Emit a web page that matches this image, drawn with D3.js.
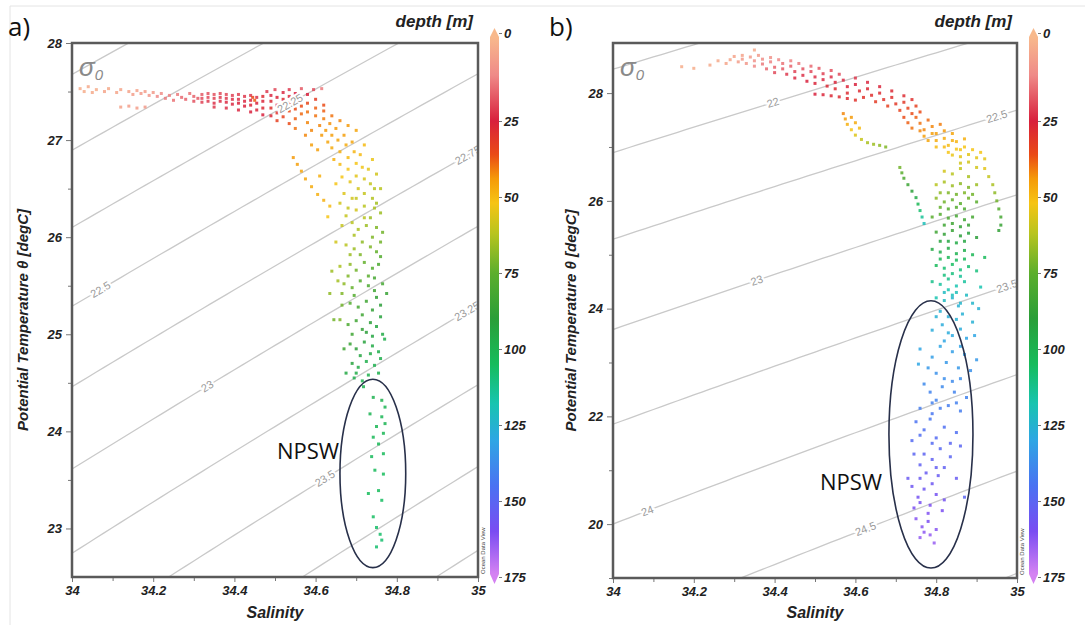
<!DOCTYPE html>
<html>
<head>
<meta charset="utf-8">
<script src="https://cdn.jsdelivr.net/npm/d3@7"></script>
<style>
    body { margin: 0; background: #fff; }
    svg { display: block; font-family: "Liberation Sans", Arial, sans-serif; }
    .axis text { font-weight: bold; font-style: italic; font-size: 13px; fill: #222; }
    .axis line { stroke: #777; }
    .axis path { display: none; }
</style>
</head>
<body>
<svg id="chart" width="1085" height="625"></svg>
<script>
// ---- data ----
const salinityTicks = [34, 34.2, 34.4, 34.6, 34.8, 35];
const salinityMinor = [34.1, 34.3, 34.5, 34.7, 34.9];
const tempTicksA = [23, 24, 25, 26, 27, 28];
const tempMinorA = [23.5, 24.5, 25.5, 26.5, 27.5];
const tempTicksB = [20, 22, 24, 26, 28];
const tempMinorB = [19, 21, 23, 25, 27];
const depthTicks = [0, 25, 50, 75, 100, 125, 150, 175];
const depthStops = [0, 12, 25, 36, 44, 52, 62, 75, 90, 105, 118, 130, 145, 160, 175];
const depthColors = ['#f8b98c', '#ef8a88', '#d8203c', '#ea4a16', '#f59a08', '#f6c414', '#b8c41e', '#5cae2c',
    '#2a9e38', '#16bc5c', '#18c4b0', '#2ea6e4', '#4a72f2', '#7a4cf2', '#d482f2'];

const levelsA = [21.5, 21.75, 22, 22.25, 22.5, 22.75, 23, 23.25, 23.5, 23.75, 24, 24.25];
const levelsB = [21, 21.5, 22, 22.5, 23, 23.5, 24, 24.5, 25];
// [sigma level, salinity where the label sits]
const labelsA = [[22.25, 34.537], [22.5, 34.07], [22.75, 34.975], [23, 34.333], [23.25, 34.973], [23.5, 34.623]];
const labelsB = [[22, 34.396], [22.5, 34.95], [23, 34.356], [23.5, 34.975], [24, 34.085], [24.5, 34.625]];

// NPSW ellipse: [centre S, centre T, radius S, radius T]
const npswA = [34.741, 23.567, 0.081, 0.97];
const npswB = [34.787, 21.665, 0.104, 2.48];

// [salinity, potential temperature, depth]
const pointsA = [
    [34.02,27.53,3],[34.03,27.50,3],[34.04,27.55,4],[34.05,27.49,4],[34.06,27.52,3],[34.08,27.50,5],[34.09,27.53,4],
    [34.11,27.49,5],[34.12,27.52,5],[34.14,27.50,6],[34.15,27.47,7],[34.16,27.51,6],[34.17,27.48,8],[34.18,27.50,7],
    [34.19,27.46,9],[34.20,27.49,8],[34.12,27.34,6],[34.14,27.35,7],[34.16,27.33,7],[34.18,27.34,8],
    [34.21,27.45,12],[34.22,27.48,11],[34.23,27.43,14],[34.24,27.46,13],[34.25,27.41,15],[34.26,27.47,14],
    [34.27,27.44,16],[34.28,27.42,17],[34.29,27.48,15],[34.30,27.45,17],[34.30,27.40,19],[34.31,27.43,18],
    [34.32,27.47,18],[34.32,27.43,20],[34.32,27.39,21],[34.335,27.48,19],[34.335,27.44,20],[34.335,27.40,22],
    [34.35,27.47,19],[34.35,27.43,21],[34.35,27.38,23],[34.35,27.34,22],[34.365,27.48,20],[34.365,27.44,22],
    [34.365,27.40,23],[34.38,27.47,20],[34.38,27.43,22],[34.38,27.39,24],[34.38,27.33,23],[34.395,27.46,21],
    [34.395,27.42,23],[34.395,27.37,24],[34.41,27.47,21],[34.41,27.42,23],[34.41,27.38,25],[34.41,27.31,24],
    [34.425,27.45,22],[34.425,27.40,24],[34.425,27.35,25],[34.44,27.46,22],[34.44,27.41,24],[34.44,27.36,26],
    [34.44,27.29,25],[34.455,27.44,23],[34.455,27.38,25],[34.455,27.31,26],[34.47,27.45,28],[34.47,27.40,26],
    [34.47,27.33,27],[34.47,27.26,25],[34.445,27.44,35],[34.45,27.41,38],
    [34.48,27.50,22],[34.49,27.46,24],[34.49,27.40,27],[34.49,27.33,29],[34.49,27.25,27],[34.50,27.52,20],
    [34.505,27.44,26],[34.505,27.36,30],[34.505,27.28,31],[34.505,27.20,33],[34.52,27.49,24],[34.52,27.42,28],
    [34.52,27.34,32],[34.52,27.24,34],[34.535,27.52,22],[34.535,27.45,28],[34.535,27.38,31],[34.535,27.30,34],
    [34.535,27.17,36],[34.55,27.48,26],[34.55,27.40,33],[34.55,27.32,36],[34.55,27.22,38],[34.55,27.12,40],
    [34.565,27.53,18],[34.565,27.43,30],[34.565,27.35,36],[34.565,27.27,39],[34.58,27.47,25],[34.58,27.38,35],
    [34.58,27.29,40],[34.58,27.18,42],[34.595,27.52,20],[34.60,27.42,32],[34.60,27.33,38],[34.615,27.53,14],
    [34.62,27.36,36],
    [34.60,27.25,40],[34.61,27.15,42],[34.615,27.05,44],[34.62,27.22,41],[34.625,27.10,44],[34.63,26.98,46],
    [34.635,27.17,43],[34.64,27.05,45],[34.64,26.92,47],[34.645,26.80,48],[34.65,27.12,44],[34.655,27.00,46],
    [34.66,26.88,48],[34.66,26.75,50],[34.665,26.62,52],[34.67,27.05,45],[34.675,26.95,47],[34.68,26.82,50],
    [34.68,26.70,52],[34.685,26.57,55],[34.69,26.98,46],[34.695,26.88,49],[34.70,26.76,52],[34.70,26.63,55],
    [34.705,26.50,58],[34.71,26.85,50],[34.715,26.72,53],[34.72,26.60,57],[34.72,26.45,60],[34.73,26.70,55],
    [34.735,26.55,60],[34.74,26.40,63],[34.745,26.50,62],[34.75,26.35,65],
    [34.62,27.30,38],[34.64,27.25,40],[34.66,27.20,42],[34.68,27.15,44],[34.70,27.10,46],[34.72,26.95,50],
    [34.74,26.80,54],[34.75,26.65,58],[34.76,26.50,62],[34.65,26.55,52],[34.67,26.45,56],[34.69,26.40,58],
    [34.575,27.05,42],[34.59,27.10,42],[34.605,26.90,45],
    [34.545,26.82,44],[34.555,26.75,45],[34.565,26.68,46],[34.575,26.60,46],[34.59,26.52,47],[34.605,26.44,48],
    [34.62,26.38,48],[34.635,26.32,50],[34.59,26.95,45],[34.61,26.63,48],[34.63,26.21,52],
    [34.68,26.30,60],[34.70,26.28,58],[34.72,26.32,62],[34.745,26.30,64],[34.76,26.25,66],
    [34.665,26.12,60],[34.69,26.15,62],[34.705,26.08,64],[34.725,26.12,66],[34.75,26.10,70],[34.765,26.05,72],
    [34.675,25.92,62],[34.695,25.88,66],[34.715,25.95,68],[34.735,25.90,70],[34.75,25.85,74],[34.76,25.95,72],
    [34.66,25.70,64],[34.685,25.72,68],[34.70,25.66,72],[34.72,25.74,74],[34.74,25.68,78],[34.755,25.72,80],
    [34.67,25.52,68],[34.69,25.48,74],[34.71,25.55,78],[34.73,25.50,80],[34.745,25.45,84],[34.765,25.52,82],
    [34.665,25.30,72],[34.685,25.32,78],[34.705,25.28,82],[34.725,25.34,84],[34.74,25.25,88],[34.76,25.30,90],
    [34.68,25.10,80],[34.70,25.14,84],[34.715,25.05,88],[34.735,25.12,90],[34.75,25.08,94],[34.765,25.00,96],
    [34.685,24.90,86],[34.70,24.85,90],[34.72,24.92,92],[34.74,24.88,96],[34.755,24.82,98],
    [34.69,24.70,92],[34.705,24.66,96],[34.725,24.72,98],[34.745,24.68,100],[34.76,24.75,98],
    [34.695,24.55,98],[34.715,24.52,100],[34.73,24.58,99],
    [34.675,26.22,60],[34.695,26.02,64],[34.735,26.20,66],[34.71,25.82,70],[34.73,25.60,76],[34.68,25.60,70],
    [34.695,25.40,78],[34.715,25.20,84],[34.75,25.38,88],[34.725,25.02,90],[34.69,25.00,84],[34.71,24.78,94],
    [34.735,24.80,96],[34.755,24.60,99],[34.70,24.60,97],[34.74,24.98,94],[34.76,25.18,92],[34.745,25.58,82],
    [34.76,25.80,78],[34.74,26.00,70],[34.72,26.20,62],[34.685,25.82,66],[34.665,25.42,70],
    [34.65,25.95,58],[34.655,25.55,65],[34.66,25.15,70],[34.67,24.85,84],[34.675,24.60,95],[34.775,25.42,86],
    [34.77,24.95,98],[34.66,26.35,58],[34.70,26.40,60],[34.64,25.65,66],[34.635,25.42,68],[34.645,25.15,72],
    [34.718,24.46,100],[34.742,24.35,100],[34.763,24.32,99],[34.771,24.25,101],[34.734,24.18,101],
    [34.763,24.15,102],[34.75,24.05,102],[34.771,24.08,101],[34.767,23.98,102],[34.742,23.94,103],
    [34.755,23.87,103],[34.738,23.74,104],[34.767,23.77,104],[34.746,23.60,104],[34.767,23.56,105],
    [34.73,23.36,105],[34.755,23.39,105],[34.763,23.29,106],[34.742,23.12,106],[34.75,23.01,107],
    [34.759,22.94,107],[34.763,22.88,108],[34.75,22.81,108]
];

const pointsB = [
    [34.17,28.49,3],[34.20,28.46,3],[34.24,28.52,4],[34.26,28.60,4],[34.28,28.55,5],[34.35,28.80,4],
    [34.29,28.62,5],[34.30,28.68,6],[34.31,28.58,7],[34.32,28.70,6],[34.32,28.63,8],[34.33,28.55,9],
    [34.34,28.67,8],[34.35,28.60,10],[34.35,28.50,12],[34.36,28.70,8],[34.37,28.63,11],[34.37,28.54,14],
    [34.38,28.45,16],[34.39,28.66,10],[34.39,28.58,13],[34.40,28.48,17],[34.40,28.38,20],
    [34.41,28.62,12],[34.42,28.55,15],[34.42,28.45,18],[34.43,28.35,22],[34.44,28.60,13],[34.44,28.50,17],
    [34.45,28.40,21],[34.45,28.28,24],[34.46,28.55,14],[34.47,28.45,19],[34.47,28.33,23],[34.48,28.22,25],
    [34.49,28.50,16],[34.49,28.40,20],[34.50,28.30,23],[34.50,28.18,26],[34.51,28.46,18],[34.52,28.36,21],
    [34.52,28.25,24],[34.53,28.13,27],[34.54,28.42,19],[34.54,28.30,23],[34.55,28.20,26],[34.55,28.08,28],
    [34.50,27.98,25],[34.52,27.97,26],[34.54,27.95,27],[34.56,27.93,28],[34.58,27.90,28],[34.60,27.87,30],
    [34.56,28.35,20],[34.57,28.24,24],[34.58,28.12,26],[34.58,28.00,28],[34.60,28.28,22],[34.60,28.16,25],
    [34.61,28.04,28],[34.62,27.92,30],[34.63,28.20,24],[34.63,28.08,27],[34.64,27.96,29],[34.65,27.84,32],
    [34.66,28.12,26],[34.66,28.00,28],[34.67,27.88,30],[34.68,27.76,33],[34.69,28.04,27],[34.69,27.92,29],
    [34.70,27.80,31],[34.71,27.68,34],[34.72,27.95,28],[34.72,27.83,31],[34.73,27.72,34],[34.74,27.88,29],
    [34.75,27.76,33],[34.76,27.65,36],
    [34.72,27.55,36],[34.73,27.45,38],[34.74,27.35,40],[34.75,27.55,38],[34.76,27.44,40],[34.77,27.32,42],
    [34.77,27.20,45],[34.78,27.50,39],[34.79,27.38,42],[34.79,27.25,45],[34.80,27.12,47],[34.80,27.00,50],
    [34.81,27.42,41],[34.82,27.30,44],[34.82,27.16,47],[34.83,27.03,50],[34.83,26.90,52],[34.84,27.25,46],
    [34.85,27.10,49],[34.85,26.96,52],[34.86,26.82,55],[34.87,27.15,48],[34.87,27.00,52],[34.88,26.86,55],
    [34.88,26.72,58],
    [34.74,27.62,36],[34.76,27.30,42],[34.78,27.12,46],[34.80,27.25,45],[34.84,27.12,48],[34.86,26.95,52],
    [34.82,27.00,50],[34.84,26.85,54],[34.86,26.70,58],[34.89,26.95,52],[34.90,26.80,55],[34.90,26.62,58],
    [34.57,27.62,42],[34.575,27.52,45],[34.58,27.42,48],[34.59,27.32,52],[34.60,27.22,56],[34.615,27.14,60],
    [34.63,27.08,64],[34.645,27.05,66],[34.66,27.03,68],[34.675,27.00,70],[34.59,27.55,44],[34.60,27.45,47],
    [34.61,27.35,50],
    [34.71,26.62,72],[34.715,26.52,76],[34.72,26.42,80],[34.73,26.30,85],[34.74,26.18,90],[34.75,26.06,96],
    [34.755,25.94,102],[34.76,25.82,108],[34.765,25.70,114],[34.77,25.58,120],
    [34.82,26.55,58],[34.84,26.50,62],[34.86,26.60,60],[34.88,26.45,64],
    [34.80,26.30,62],[34.82,26.35,64],[34.84,26.28,66],[34.86,26.32,68],[34.88,26.25,70],[34.90,26.30,66],
    [34.80,26.05,68],[34.82,25.98,72],[34.84,26.02,74],[34.86,25.95,76],[34.88,26.05,72],[34.90,25.98,76],
    [34.79,25.70,76],[34.81,25.75,78],[34.83,25.68,80],[34.85,25.72,82],[34.87,25.65,84],[34.89,25.70,82],
    [34.80,25.42,84],[34.82,25.38,88],[34.84,25.45,86],[34.86,25.35,90],[34.88,25.40,92],[34.90,25.32,90],
    [34.79,25.10,95],[34.81,25.05,98],[34.83,25.12,96],[34.85,25.02,100],[34.87,25.08,98],[34.89,25.00,102],
    [34.80,24.80,104],[34.82,24.75,108],[34.84,24.82,106],[34.86,24.72,110],[34.88,24.78,108],
    [34.79,24.50,112],[34.81,24.45,115],[34.83,24.55,112],[34.85,24.42,118],[34.87,24.50,115],
    [34.80,24.20,118],[34.82,24.15,122],[34.84,24.25,120],[34.86,24.10,124],
    [34.81,26.15,68],[34.83,26.15,70],[34.85,26.12,72],[34.87,26.15,70],[34.89,26.12,72],[34.81,25.88,74],
    [34.83,25.85,78],[34.85,25.88,78],[34.87,25.85,80],[34.82,25.55,84],[34.84,25.58,84],[34.86,25.52,88],
    [34.88,25.55,86],[34.81,25.25,92],[34.83,25.25,94],[34.85,25.22,96],[34.87,25.25,94],[34.81,24.92,102],
    [34.83,24.95,102],[34.85,24.90,104],[34.87,24.92,104],[34.82,24.62,110],[34.84,24.65,110],[34.86,24.60,114],
    [34.83,24.35,118],[34.85,24.30,120],
    [34.92,26.60,55],[34.93,26.45,60],[34.94,26.30,64],[34.945,26.15,68],[34.95,26.00,72],[34.955,25.85,78],
    [34.96,25.70,82],[34.96,25.55,86],[34.955,25.45,88],[34.91,26.90,52],[34.92,26.78,55],
    [34.90,24.70,110],[34.92,24.95,104],[34.91,24.40,118],
    [34.82,24.30,122],[34.84,24.20,124],[34.855,24.05,126],[34.875,24.25,122],[34.89,24.10,124],[34.905,24.00,126],
    [34.80,23.85,126],[34.815,23.70,128],[34.83,23.55,128],[34.85,23.80,126],[34.86,23.62,128],[34.875,23.45,130],
    [34.89,23.75,126],[34.895,23.50,130],[34.79,23.60,128],
    [34.81,23.95,126],[34.83,23.85,127],[34.865,23.90,126],[34.82,23.40,130],[34.84,23.50,129],[34.86,23.30,131],
    [34.76,23.25,130],[34.79,23.10,132],[34.81,23.30,130],[34.825,23.00,134],[34.84,23.20,132],[34.855,22.90,134],
    [34.87,23.15,132],[34.885,22.85,136],[34.90,23.05,134],[34.80,22.80,136],[34.756,22.97,130],
    [34.78,22.90,134],[34.82,22.70,137],[34.84,22.65,138],[34.86,22.70,137],
    [34.77,22.60,138],[34.785,22.45,140],[34.80,22.30,140],[34.815,22.55,138],[34.83,22.20,142],[34.845,22.45,140],
    [34.86,22.10,142],[34.875,22.35,140],[34.76,22.15,142],[34.79,22.05,144],
    [34.79,22.25,141],[34.81,22.15,142],[34.85,22.25,141],
    [34.75,21.90,145],[34.77,21.75,146],[34.785,21.95,144],[34.80,21.60,148],[34.82,21.80,146],[34.835,21.50,150],
    [34.85,21.70,146],[34.86,21.45,150],[34.74,21.55,148],
    [34.76,21.65,147],[34.79,21.50,148],[34.81,21.40,149],
    [34.745,21.30,150],[34.76,21.10,152],[34.775,20.95,154],[34.79,21.20,152],[34.805,20.90,154],[34.82,21.05,152],
    [34.835,21.25,150],[34.73,20.85,155],[34.85,20.85,154],
    [34.77,21.30,151],[34.80,21.05,153],[34.76,20.85,155],[34.79,20.75,156],
    [34.74,20.70,156],[34.755,20.50,158],[34.77,20.65,156],[34.785,20.35,160],[34.80,20.55,158],[34.815,20.25,160],
    [34.745,20.30,160],[34.82,20.45,158],[34.87,20.50,150],[34.76,20.40,159],[34.78,20.20,161],
    [34.75,20.10,162],[34.765,19.95,162],[34.78,20.05,160],[34.785,19.80,164],[34.795,19.65,165],[34.76,19.75,164],
    [34.80,19.90,162],[34.77,19.85,163]
];

// ---- helpers ----
// UNESCO EOS-80 density anomaly at the surface
function sigma0(S, T) {
    const rw = 999.842594 + 6.793952e-2 * T - 9.095290e-3 * T * T + 1.001685e-4 * T ** 3
        - 1.120083e-6 * T ** 4 + 6.536332e-9 * T ** 5;
    const A = 8.24493e-1 - 4.0899e-3 * T + 7.6438e-5 * T * T - 8.2467e-7 * T ** 3 + 5.3875e-9 * T ** 4;
    const B = -5.72466e-3 + 1.0227e-4 * T - 1.6546e-6 * T * T;
    return rw + A * S + B * S ** 1.5 + 4.8314e-4 * S * S - 1000;
}
function tempOnLevel(S, level) {
    let lo = 0, hi = 40;
    for (let i = 0; i < 40; i++) {
        const mid = (lo + hi) / 2;
        if (sigma0(S, mid) > level) lo = mid; else hi = mid;
    }
    return (lo + hi) / 2;
}

const color = d3.scaleLinear().domain(depthStops).range(depthColors).clamp(true);
const svg = d3.select('#chart');

// faint outer frame of the figure
svg.append('path').attr('d', 'M10,625 V6 H1085').attr('fill', 'none').attr('stroke', '#e4e4e4');

function drawPanel(cfg) {
    const x = d3.scaleLinear().domain([34, 35]).range([cfg.left, cfg.right]);
    const y = d3.scaleLinear().domain(cfg.tDomain).range([cfg.bottom, cfg.top]);
    const g = svg.append('g');

    g.append('clipPath').attr('id', 'clip' + cfg.id)
        .append('rect').attr('x', cfg.left).attr('y', cfg.top)
        .attr('width', cfg.right - cfg.left).attr('height', cfg.bottom - cfg.top);
    const plot = g.append('g').attr('clip-path', `url(#clip${cfg.id})`);

    // isopycnals
    const sSamples = d3.range(33.9, 35.11, 0.02);
    const line = d3.line().x(d => x(d[0])).y(d => y(d[1]));
    plot.selectAll('.iso')
        .data(cfg.levels)
        .join('path')
        .attr('class', 'iso')
        .attr('fill', 'none')
        .attr('stroke', '#c9c9c9')
        .attr('stroke-width', 1.3)
        .attr('d', lev => line(sSamples.map(s => [s, tempOnLevel(s, lev)])));

    // scatter
    plot.selectAll('.pt')
        .data(cfg.points)
        .join('rect')
        .attr('class', 'pt')
        .attr('x', d => x(d[0]) - 1.5)
        .attr('y', d => y(d[1]) - 1.5)
        .attr('width', 3)
        .attr('height', 3)
        .attr('fill', d => color(d[2]))
        .attr('opacity', 0.85);

    // isopycnal labels
    plot.selectAll('.isolab')
        .data(cfg.labels)
        .join('text')
        .attr('class', 'isolab')
        .attr('transform', d => {
            const t0 = tempOnLevel(d[1] - 0.01, d[0]), t1 = tempOnLevel(d[1] + 0.01, d[0]);
            const ang = Math.atan2(y(t1) - y(t0), x(d[1] + 0.01) - x(d[1] - 0.01)) * 180 / Math.PI;
            return `translate(${x(d[1])},${y(tempOnLevel(d[1], d[0]))}) rotate(${ang})`;
        })
        .attr('text-anchor', 'middle')
        .attr('dy', '0.35em')
        .attr('font-size', 11)
        .attr('fill', '#9a9a9a')
        .attr('stroke', '#fff')
        .attr('stroke-width', 4)
        .attr('paint-order', 'stroke')
        .text(d => d[0]);

    // NPSW ellipse
    g.append('ellipse')
        .attr('cx', x(cfg.npsw[0])).attr('cy', y(cfg.npsw[1]))
        .attr('rx', x(cfg.npsw[0] + cfg.npsw[2]) - x(cfg.npsw[0]))
        .attr('ry', y(cfg.npsw[1] - cfg.npsw[3]) - y(cfg.npsw[1]))
        .attr('fill', 'none').attr('stroke', '#28304a').attr('stroke-width', 1.6);
    g.append('text')
        .attr('x', cfg.npswLabel[0]).attr('y', cfg.npswLabel[1])
        .attr('font-family', '"Open Sans", sans-serif').attr('font-size', 22).attr('fill', '#111')
        .text('NPSW');

    // axes
    g.append('g').attr('class', 'axis')
        .attr('transform', `translate(0,${cfg.bottom})`)
        .call(d3.axisBottom(x).tickValues(salinityTicks).tickSize(5).tickPadding(4).tickFormat(d => d));
    g.append('g').attr('class', 'axis')
        .attr('transform', `translate(0,${cfg.bottom})`)
        .call(d3.axisBottom(x).tickValues(salinityMinor).tickSize(4).tickFormat(''));
    g.append('g').attr('class', 'axis')
        .attr('transform', `translate(${cfg.left},0)`)
        .call(d3.axisLeft(y).tickValues(cfg.tTicks).tickSize(6).tickPadding(4).tickFormat(d => d));
    g.append('g').attr('class', 'axis')
        .attr('transform', `translate(${cfg.left},0)`)
        .call(d3.axisLeft(y).tickValues(cfg.tMinor).tickSize(4).tickFormat(''));

    // frame
    g.append('rect')
        .attr('x', cfg.left).attr('y', cfg.top)
        .attr('width', cfg.right - cfg.left).attr('height', cfg.bottom - cfg.top)
        .attr('fill', 'none').attr('stroke', '#5a5a5a').attr('stroke-width', 2.5);

    // sigma_0 label
    const sig = g.append('text')
        .attr('x', cfg.left + 7).attr('y', cfg.top + 33)
        .attr('font-size', 26).attr('font-style', 'italic').attr('fill', '#8a8a8a');
    sig.append('tspan').text('σ');
    sig.append('tspan').attr('font-size', 15).attr('dy', 4).text('0');

    // titles
    g.append('text')
        .attr('x', (cfg.left + cfg.right) / 2).attr('y', 618)
        .attr('text-anchor', 'middle')
        .attr('font-size', 16).attr('font-weight', 'bold').attr('font-style', 'italic').attr('fill', '#222')
        .text('Salinity');
    g.append('text')
        .attr('transform', `translate(${cfg.titleX},${(cfg.top + cfg.bottom) / 2 + 10}) rotate(-90)`)
        .attr('text-anchor', 'middle')
        .attr('font-size', 15).attr('font-weight', 'bold').attr('font-style', 'italic').attr('fill', '#222')
        .text('Potential Temperature θ [degC]');
    g.append('text')
        .attr('x', cfg.left - 64).attr('y', 36)
        .attr('font-family', '"Open Sans", sans-serif').attr('font-size', 26).attr('fill', '#111')
        .text(cfg.tag);

    // small credit inside the frame
    g.append('text')
        .attr('transform', `translate(${cfg.right + 7},${cfg.bottom - 3}) rotate(-90)`)
        .attr('font-size', 6).attr('fill', '#444')
        .text('Ocean Data View');

    // colour bar
    const barX = cfg.right + 12, barW = 9, barTop = 37, barBottom = 574;
    const cy = d3.scaleLinear().domain([0, 25, 175]).range([33, 121, 577]);
    const gradId = 'grad' + cfg.id;
    const grad = g.append('defs').append('linearGradient')
        .attr('id', gradId).attr('x1', 0).attr('x2', 0).attr('y1', 0).attr('y2', 1);
    grad.selectAll('stop')
        .data(depthStops)
        .join('stop')
        .attr('offset', d => Math.max(0, Math.min(1, (cy(d) - barTop) / (barBottom - barTop))))
        .attr('stop-color', (d, i) => depthColors[i]);
    g.append('rect')
        .attr('x', barX).attr('y', barTop).attr('width', barW).attr('height', barBottom - barTop)
        .attr('fill', `url(#${gradId})`);
    g.append('path')
        .attr('d', `M${barX},${barTop} L${barX + barW / 2},${barTop - 9} L${barX + barW},${barTop} Z`)
        .attr('fill', depthColors[0]);
    g.append('path')
        .attr('d', `M${barX},${barBottom} L${barX + barW / 2},${barBottom + 10} L${barX + barW},${barBottom} Z`)
        .attr('fill', depthColors[depthColors.length - 1]);
    const cb = g.append('g').attr('class', 'axis')
        .attr('transform', `translate(${barX + barW},0)`)
        .call(d3.axisRight(cy).tickValues(depthTicks).tickSize(3).tickPadding(2));
    cb.selectAll('line').attr('stroke', '#333');
    g.append('text')
        .attr('x', cfg.right - 5).attr('y', 27)
        .attr('text-anchor', 'end')
        .attr('font-size', 17).attr('font-weight', 'bold').attr('font-style', 'italic').attr('fill', '#222')
        .text('depth [m]');
}

drawPanel({
    id: 'a', tag: 'a)', left: 72, right: 478, top: 43, bottom: 577, titleX: 28,
    tDomain: [22.5, 28], tTicks: tempTicksA, tMinor: tempMinorA,
    levels: levelsA, labels: labelsA, points: pointsA, npsw: npswA, npswLabel: [277, 459]
});
drawPanel({
    id: 'b', tag: 'b)', left: 613, right: 1017, top: 43, bottom: 578, titleX: 576,
    tDomain: [19, 28.93], tTicks: tempTicksB, tMinor: tempMinorB,
    levels: levelsB, labels: labelsB, points: pointsB, npsw: npswB, npswLabel: [820, 490]
});
</script>
</body>
</html>
